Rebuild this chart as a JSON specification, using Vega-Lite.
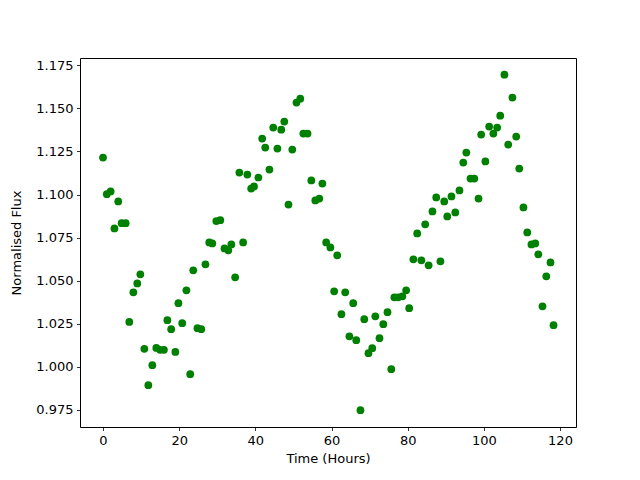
{
  "$schema": "https://vega.github.io/schema/vega-lite/v6.json",
  "width": 496,
  "height": 369,
  "autosize": {"type": "none"},
  "padding": {"left": 80, "top": 58, "right": 64, "bottom": 53},
  "background": "white",
  "config": {
    "view": {"stroke": "black", "strokeWidth": 1},
    "axis": {
      "grid": false,
      "domain": false,
      "tickColor": "black",
      "tickSize": 3.5,
      "tickWidth": 0.8,
      "labelColor": "black",
      "titleColor": "black",
      "labelFont": "DejaVu Sans",
      "titleFont": "DejaVu Sans",
      "labelFontSize": 13,
      "titleFontSize": 13,
      "titleFontWeight": "normal",
      "labelPadding": 3.5
    }
  },
  "data": {
    "values": [
      {"t": 0.0, "f": 1.1215}, {"t": 1.0, "f": 1.1002}, {"t": 2.0, "f": 1.1018}, {"t": 3.0, "f": 1.0803},
      {"t": 4.0, "f": 1.096}, {"t": 4.9, "f": 1.0834}, {"t": 5.95, "f": 1.0834}, {"t": 6.9, "f": 1.026},
      {"t": 7.97, "f": 1.0432}, {"t": 9.0, "f": 1.0484}, {"t": 9.8, "f": 1.0537}, {"t": 10.85, "f": 1.0104},
      {"t": 11.9, "f": 0.9893}, {"t": 12.95, "f": 1.0009}, {"t": 14.0, "f": 1.0109}, {"t": 15.0, "f": 1.0098},
      {"t": 16.0, "f": 1.0098}, {"t": 16.9, "f": 1.027}, {"t": 17.9, "f": 1.0218}, {"t": 19.0, "f": 1.0086},
      {"t": 19.8, "f": 1.0369}, {"t": 20.8, "f": 1.0253}, {"t": 21.9, "f": 1.0444}, {"t": 22.9, "f": 0.9957},
      {"t": 23.7, "f": 1.056}, {"t": 24.8, "f": 1.0224}, {"t": 25.8, "f": 1.0218}, {"t": 26.9, "f": 1.0595},
      {"t": 27.9, "f": 1.0722}, {"t": 28.7, "f": 1.0716}, {"t": 29.75, "f": 1.0846}, {"t": 30.8, "f": 1.0851},
      {"t": 31.9, "f": 1.0687}, {"t": 32.9, "f": 1.0676}, {"t": 33.7, "f": 1.071}, {"t": 34.7, "f": 1.0519},
      {"t": 35.8, "f": 1.1128}, {"t": 36.8, "f": 1.0722}, {"t": 37.9, "f": 1.1116}, {"t": 38.9, "f": 1.1035},
      {"t": 39.65, "f": 1.1047}, {"t": 40.8, "f": 1.1099}, {"t": 41.8, "f": 1.1325}, {"t": 42.6, "f": 1.1273},
      {"t": 43.7, "f": 1.1145}, {"t": 44.7, "f": 1.1389}, {"t": 45.8, "f": 1.1267}, {"t": 46.8, "f": 1.1377},
      {"t": 47.6, "f": 1.1424}, {"t": 48.7, "f": 1.0942}, {"t": 49.7, "f": 1.1261}, {"t": 50.8, "f": 1.1534},
      {"t": 51.8, "f": 1.1557}, {"t": 52.6, "f": 1.1354}, {"t": 53.7, "f": 1.1354}, {"t": 54.7, "f": 1.1082},
      {"t": 55.75, "f": 1.0966}, {"t": 56.8, "f": 1.0977}, {"t": 57.6, "f": 1.1064}, {"t": 58.6, "f": 1.0722},
      {"t": 59.7, "f": 1.0693}, {"t": 60.7, "f": 1.0438}, {"t": 61.5, "f": 1.0647}, {"t": 62.6, "f": 1.0305},
      {"t": 63.6, "f": 1.0432}, {"t": 64.7, "f": 1.0177}, {"t": 65.7, "f": 1.0369}, {"t": 66.5, "f": 1.0154},
      {"t": 67.6, "f": 0.9748}, {"t": 68.6, "f": 1.0276}, {"t": 69.7, "f": 1.0079}, {"t": 70.7, "f": 1.0108},
      {"t": 71.5, "f": 1.0293}, {"t": 72.6, "f": 1.0166}, {"t": 73.6, "f": 1.0247}, {"t": 74.7, "f": 1.0317},
      {"t": 75.7, "f": 0.9986}, {"t": 76.5, "f": 1.0403}, {"t": 77.5, "f": 1.0403}, {"t": 78.6, "f": 1.0409},
      {"t": 79.6, "f": 1.0444}, {"t": 80.4, "f": 1.034}, {"t": 81.5, "f": 1.0624}, {"t": 82.5, "f": 1.0774},
      {"t": 83.6, "f": 1.0618}, {"t": 84.6, "f": 1.0827}, {"t": 85.5, "f": 1.0589}, {"t": 86.5, "f": 1.0902},
      {"t": 87.5, "f": 1.0983}, {"t": 88.6, "f": 1.0612}, {"t": 89.6, "f": 1.096}, {"t": 90.4, "f": 1.0873},
      {"t": 91.5, "f": 1.0989}, {"t": 92.5, "f": 1.0896}, {"t": 93.6, "f": 1.1024}, {"t": 94.6, "f": 1.1186},
      {"t": 95.4, "f": 1.1244}, {"t": 96.5, "f": 1.1093}, {"t": 97.5, "f": 1.1093}, {"t": 98.6, "f": 1.0977},
      {"t": 99.3, "f": 1.1348}, {"t": 100.4, "f": 1.1192}, {"t": 101.4, "f": 1.1395}, {"t": 102.5, "f": 1.1354},
      {"t": 103.5, "f": 1.1389}, {"t": 104.3, "f": 1.1458}, {"t": 105.4, "f": 1.1696}, {"t": 106.4, "f": 1.129},
      {"t": 107.5, "f": 1.1563}, {"t": 108.5, "f": 1.1337}, {"t": 109.3, "f": 1.1151}, {"t": 110.4, "f": 1.0925},
      {"t": 111.4, "f": 1.078}, {"t": 112.5, "f": 1.071}, {"t": 113.5, "f": 1.0716}, {"t": 114.3, "f": 1.0653},
      {"t": 115.4, "f": 1.0351}, {"t": 116.4, "f": 1.0525}, {"t": 117.5, "f": 1.0606}, {"t": 118.3, "f": 1.0241}
    ]
  },
  "mark": {"type": "point", "filled": true, "shape": "circle", "color": "green", "opacity": 1, "size": 60},
  "encoding": {
    "x": {
      "field": "t", "type": "quantitative",
      "scale": {"domain": [-6.04, 124.2], "nice": false, "zero": false},
      "axis": {"title": "Time (Hours)", "values": [0, 20, 40, 60, 80, 100, 120], "titlePadding": 5}
    },
    "y": {
      "field": "f", "type": "quantitative",
      "scale": {"domain": [0.965, 1.1793], "nice": false, "zero": false},
      "axis": {"title": "Normalised Flux", "values": [0.975, 1.0, 1.025, 1.05, 1.075, 1.1, 1.125, 1.15, 1.175], "format": ".3f", "titlePadding": 12}
    }
  }
}
